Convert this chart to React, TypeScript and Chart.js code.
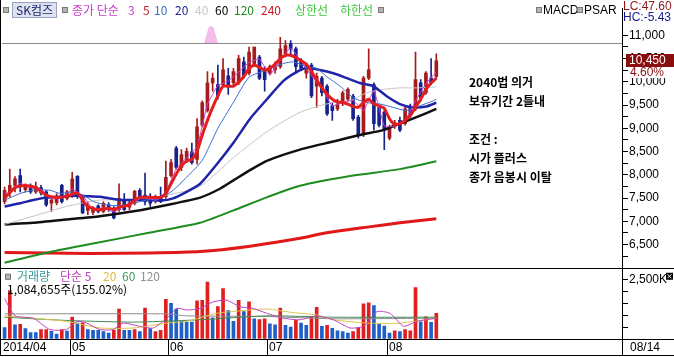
import React, { useEffect, useRef } from 'react';
import { Chart, registerables } from 'chart.js';

Chart.register(...registerables);

// ---------- data ----------
const dates = [
  '04/14','04/15','04/16','04/17','04/18','04/21','04/22','04/23','04/24','04/25','04/28','04/29','04/30',
  '05/02','05/07','05/08','05/09','05/12','05/13','05/14','05/15','05/16','05/19','05/20','05/21','05/22','05/23','05/26','05/27','05/28','05/29','05/30',
  '06/02','06/03','06/05','06/09','06/10','06/11','06/12','06/13','06/16','06/17','06/18','06/19','06/20','06/23','06/24','06/25','06/26','06/27','06/30',
  '07/01','07/02','07/03','07/04','07/07','07/08','07/09','07/10','07/11','07/14','07/15','07/16','07/17','07/18','07/21','07/22','07/23','07/24','07/25','07/28','07/29','07/30','07/31',
  '08/01','08/04','08/05','08/06','08/07','08/08','08/11','08/12','08/13','08/14',
];
const monthTickLabels = ['2014/04', '05', '06', '07', '08'];
const monthStarts = [0, 13, 32, 51, 74];
const lastDateLabel = '08/14';

const opens = [7423,7633,7773,7983,7682,7773,7633,7724,7633,7388,7402,7773,7493,7563,7969,7528,7234,7193,7332,7214,7353,7283,7248,7458,7304,7388,7668,7563,7542,7458,7528,7528,7983,8577,8158,8332,8493,8332,9067,9381,9976,9941,9941,10130,9976,9976,10431,10186,10361,10535,10221,10186,10256,10326,10605,10815,10710,10466,10186,10361,9906,10081,9906,9487,9417,9556,9626,9696,9242,8857,10081,9941,9452,9347,8787,9053,9172,9102,9452,9417,9976,9766,10081,10116];
const highs = [7738,8123,7962,8123,7808,7808,7843,7773,7668,7493,7598,7794,7668,8053,7983,7563,7423,7318,7353,7423,7402,7318,7808,7598,7458,7668,7703,8039,7598,7563,7738,8297,8332,8612,8542,8577,8682,9207,9591,10221,10186,10360,10500,10291,10291,10570,10535,10745,10745,10570,10326,10361,10431,10955,10885,10885,10745,10500,10396,10396,10186,10116,9941,9556,9626,9801,9871,9731,9277,10116,10710,9976,9487,9382,9067,9172,9242,9452,9522,10640,10046,10221,10500,10605];
const lows = [7374,7528,7633,7633,7633,7598,7598,7563,7318,7214,7353,7388,7458,7514,7493,7165,7144,7144,7179,7179,7214,7053,7214,7235,7248,7353,7458,7353,7318,7388,7402,7493,7948,8123,8088,8262,8228,8228,9032,9346,9801,9626,9906,9731,9906,9941,10081,10151,10326,10046,9801,10151,10186,10291,10535,10605,10186,10256,10081,9661,9452,9696,9277,9172,9382,9487,9591,9172,8787,8822,10046,8962,9032,8542,8752,8997,8927,9067,9242,9382,9591,9731,9941,10081];
const closes = [7668,7773,7913,7773,7752,7633,7752,7612,7353,7458,7542,7423,7633,7913,7528,7179,7318,7283,7214,7388,7248,7074,7493,7248,7402,7647,7528,7423,7388,7528,7423,7948,8262,8158,8437,8507,8262,9032,9556,9976,10081,9696,10256,9920,10221,10500,10130,10640,10745,10081,10046,10326,10361,10710,10780,10710,10326,10291,10361,9696,10116,9766,9312,9382,9522,9766,9836,9207,8857,10081,10256,9102,9067,8962,8997,9123,8962,9417,9277,10046,9661,10186,9990,10450];

const volumes = [477000,2041000,601000,620000,436000,272000,272000,395000,400000,325000,206000,395000,329000,918000,671000,683000,395000,370000,370000,313000,247000,370000,1259000,370000,370000,395000,313000,1300000,436000,313000,370000,1671000,1506000,1259000,753000,712000,712000,1605000,1630000,2399000,889000,1370000,2123000,1193000,741000,1630000,1152000,1564000,848000,823000,848000,642000,601000,1300000,576000,506000,782000,671000,576000,946000,1329000,535000,576000,453000,342000,317000,247000,317000,481000,1481000,1523000,1411000,617000,547000,247000,342000,317000,399000,342000,2169000,728000,934000,699700,1084655];
const volumeRising = [0,1,0,1,0,0,0,1,1,0, 0,1,0,1,0,1,0,0,0,0, 0,1,1,0,0,1,0,1,0,1, 1,1,0,0,0,0,0,1,1,1, 0,1,1,0,0,1,0,1,0,1, 1,0,0,1,0,0,1,0,0,1, 1,0,1,0,0,0,0,1,1,1, 1,0,0,0,0,1,0,1,1,1, 0,1,0,1];

// moving averages: [day index, value]
const ma3 = [[0,7600],[1,7620],[3,7820],[5,7720],[7,7690],[9,7480],[11,7500],[13,7690],[15,7550],[17,7260],[19,7290],[21,7200],[23,7330],[25,7430],[27,7530],[29,7450],[31,7630],[33,8130],[35,8370],[37,8600],[39,9520],[41,9920],[43,10020],[45,10210],[47,10420],[49,10490],[51,10150],[53,10470],[55,10730],[57,10440],[59,10130],[61,9860],[63,9480],[65,9560],[67,9600],[69,9380],[71,9810],[73,9050],[75,9040],[77,9170],[79,9590],[81,9960],[83,10210]];
const ma5 = [[0,7493],[2,7724],[4,7772],[6,7724],[8,7562],[10,7514],[12,7541],[14,7612],[15,7457],[16,7319],[18,7247],[20,7283],[21,7247],[22,7304],[24,7352],[25,7457],[26,7514],[28,7514],[30,7514],[31,7598],[32,7808],[33,8017],[34,8192],[35,8296],[36,8332],[37,8506],[38,8857],[39,9171],[40,9450],[41,9696],[42,9906],[44,9906],[46,10115],[47,10290],[48,10361],[49,10311],[50,10256],[51,10290],[52,10382],[53,10499],[54,10571],[55,10571],[56,10520],[57,10451],[58,10382],[59,10220],[60,10046],[61,9870],[62,9731],[63,9627],[64,9570],[65,9555],[66,9522],[67,9471],[68,9450],[69,9555],[70,9627],[71,9522],[72,9486],[73,9429],[74,9207],[75,9081],[76,9102],[77,9171],[78,9276],[79,9450],[80,9627],[81,9836],[82,9975],[83,10080]];
const ma10 = [[0,7457],[3,7598],[5.5,7667],[8.7,7667],[10.7,7598],[13.2,7633],[15.1,7562],[17.1,7424],[19.6,7352],[22.2,7340],[24.8,7388],[27.3,7457],[29.9,7493],[32.4,7667],[35,7948],[38,8311],[41,9000],[44,9560],[47,10100],[50.4,10256],[53.6,10394],[55.5,10430],[58.1,10325],[60,10290],[61.9,10115],[64.5,9906],[67,9660],[69.6,9555],[72.2,9522],[74.7,9450],[77.3,9381],[79.9,9486],[82.4,9591],[83,9627]];
const ma20 = [[0,7319],[3,7388],[5.5,7457],[8,7514],[10.7,7529],[13.2,7550],[15.8,7541],[18.3,7529],[20.3,7493],[22.8,7457],[25,7457],[27.3,7457],[30,7445],[32.4,7493],[35,7633],[37.6,7808],[40.8,8227],[44,8690],[47.2,9207],[50.4,9620],[53.6,10020],[56.1,10210],[58,10300],[60.6,10256],[63.2,10185],[65.8,10080],[68.3,9975],[70.9,9906],[73.4,9696],[76,9522],[78.6,9450],[81.1,9471],[83,9549]];
const ma40 = [[0,6933],[5.5,7109],[11.9,7319],[18.3,7457],[24.8,7457],[31.2,7562],[37.6,7750],[44,8368],[50.4,8926],[56.8,9345],[60.6,9486],[63.2,9555],[66.4,9591],[69.6,9765],[72.8,9836],[76,9870],[79.2,9870],[83,9891]];
const ma60 = [[0,6933],[5.5,6968],[11.9,7038],[18.3,7109],[24.8,7214],[31.2,7352],[37.6,7510],[41.4,7700],[44,7880],[47.2,8100],[50.4,8300],[56.8,8542],[63.2,8716],[68.3,8857],[72.8,8962],[76,9102],[79.2,9241],[83,9417]];
const ma120 = [[0,6108],[8.7,6339],[18.3,6549],[28,6759],[37.6,6968],[43.9,7230],[50.5,7520],[56.8,7766],[66.4,7975],[76,8122],[83,8290]];
const ma240 = [[0,6329],[16.4,6307],[28,6318],[37.6,6349],[47.2,6465],[56.8,6633],[61.2,6738],[69.7,6874],[76,6968],[83,7052]];

const volMa5 = [[0,1699],[2,975],[5.5,876],[8.7,399],[11.9,399],[13.9,741],[15.8,671],[18.3,399],[20.9,399],[22.8,671],[26,535],[28.6,465],[31.2,876],[33.1,1288],[35,1222],[37.6,1288],[40.1,1564],[42.7,1634],[45.3,1358],[47.8,1288],[50.4,1082],[53.6,876],[56.8,811],[60,975],[63.2,811],[66.4,465],[69,535],[71.6,1152],[74.1,1082],[76.7,535],[79.2,741],[83,876]];
const volMa20 = [[0,975],[5.5,876],[11.9,741],[18.3,465],[24.8,465],[31.2,671],[35,741],[40.8,1082],[47.2,1222],[50.4,1263],[55.5,1111],[60,1016],[63.2,811],[69.6,671],[76,671],[83,876]];
const volMa60 = [[0,918],[11.9,782],[24.8,712],[37.6,811],[50.4,975],[63.2,918],[83,918]];
const volMa120 = [[0,1058],[31.2,1058],[35,975],[50.4,946],[63.2,852],[83,876]];

const stockName = 'SK컴즈';
const priceLegend = [
  ['종가 단순', '#c83cc8'], ['3', '#c83cc8'], ['5', '#c0282c'], ['10', '#3b6fc4'], ['20', '#1c2496'],
  ['40', '#c8c8c8'], ['60', '#000000'], ['120', '#1f8a1f'], ['240', '#d2141e'], ['상한선', '#3cc83c'], ['하한선', '#3cc83c'],
];
const volumeLegend = [['거래량', '#3c9a9a'], ['단순 5', '#c040c0'], ['20', '#dcc040'], ['60', '#3c9a5a'], ['120', '#909090']];
const noteLines = ['2040법 의거', '보유기간 2틀내', '', '조건 :', '시가 플러스', '종가 음봉시 이탈'];
const lcText = 'LC:47.60';
const hcText = 'HC:-5.43';
const lastPriceText = '10,450';
const lastPrice = 10450;
const lastChangeText = '4.60%';
const lastVolumeText = '1,084,655주(155.02%)';
const guideLinePrice = 10830;
const markerIndex = 39.7;

const priceTicks: number[] = [];
for (let v = 6250; v <= 11500; v += 250) priceTicks.push(v);
const volumeTicks = [0, 500000, 1000000, 1500000, 2000000, 2500000];

// ---------- styles ----------
const UP = '#a51c1c';
const DOWN = '#18228c';
const VOL_UP = '#e02020';
const VOL_DOWN = '#1e5fc8';
const KFONT = '"Noto Sans CJK KR", "Noto Sans", sans-serif';
const NFONT = '"Liberation Sans", Arial, sans-serif';

const pts = (arr: number[][]) => arr.map(([x, y]) => ({ x, y }));
const fmt = (v: number) => v.toLocaleString('en-US');

function square(ctx: CanvasRenderingContext2D, x: number, y: number) {
  ctx.fillStyle = '#b4b4b4';
  ctx.fillRect(x, y, 6, 6);
  ctx.strokeStyle = '#787878';
  ctx.lineWidth = 1;
  ctx.strokeRect(x + 0.5, y + 0.5, 5, 5);
}

function text(ctx: CanvasRenderingContext2D, s: string, x: number, y: number, color: string, font: string) {
  ctx.fillStyle = color;
  ctx.font = font;
  ctx.textAlign = 'left';
  ctx.textBaseline = 'middle';
  ctx.fillText(s, x, y);
}

const underlay = {
  id: 'underlay',
  beforeDatasetsDraw(chart: any) {
    const ctx = chart.ctx as CanvasRenderingContext2D;
    const xs = chart.scales.x;
    const yP = chart.scales.yP;
    const a = chart.chartArea;
    const gy = Math.round(yP.getPixelForValue(guideLinePrice)) + 0.5;
    ctx.save();
    const mx = xs.getPixelForValue(markerIndex);
    ctx.fillStyle = '#f4bde9';
    ctx.beginPath();
    ctx.moveTo(mx - 7, gy);
    ctx.lineTo(mx - 2.5, gy - 16);
    ctx.quadraticCurveTo(mx, gy - 19, mx + 2.5, gy - 16);
    ctx.lineTo(mx + 7, gy);
    ctx.closePath();
    ctx.fill();
    ctx.strokeStyle = '#8c8c8c';
    ctx.lineWidth = 1;
    ctx.beginPath();
    ctx.moveTo(a.left, gy);
    ctx.lineTo(a.right, gy);
    ctx.stroke();
    ctx.restore();
  },
};

const overlay = {
  id: 'overlay',
  afterDraw(chart: any) {
    const ctx = chart.ctx as CanvasRenderingContext2D;
    const xs = chart.scales.x;
    const yP = chart.scales.yP;
    const a = chart.chartArea;
    const W = chart.width;
    const H = chart.height;
    ctx.save();

    ctx.strokeStyle = '#000';
    ctx.lineWidth = 1;
    const hl = (y: number) => { ctx.beginPath(); ctx.moveTo(0, y); ctx.lineTo(W, y); ctx.stroke(); };
    const vl = (x: number, y0: number, y1: number) => { ctx.beginPath(); ctx.moveTo(x, y0); ctx.lineTo(x, y1); ctx.stroke(); };
    hl(Math.round(yP.bottom) + 0.5);
    hl(Math.round(a.bottom) + 0.5);
    hl(H - 1.5);
    vl(0.5, 0, H - 1);
    vl(Math.round(a.right) + 0.5, a.bottom, H - 1);

    // date row
    const dy = (a.bottom + H - 1) / 2 + 0.5;
    monthStarts.forEach((s, k) => {
      let lx = a.left + 1;
      if (k > 0) {
        const sx = Math.round(xs.getPixelForValue(s - 0.5)) + 0.5;
        vl(sx, a.bottom, H - 1);
        lx = sx + 1.5;
      }
      text(ctx, monthTickLabels[k], lx, dy, '#000', `12px ${NFONT}`);
    });
    text(ctx, lastDateLabel, a.right + 8, dy, '#000', `12px ${NFONT}`);

    // price legend
    square(ctx, 3, 7);
    ctx.fillStyle = '#dfe3ee';
    ctx.fillRect(12, 2, 45, 16);
    ctx.strokeStyle = '#98a2c0';
    ctx.strokeRect(12.5, 2.5, 44, 15);
    text(ctx, stockName, 16, 10.5, '#1c2670', `12px ${KFONT}`);
    square(ctx, 62, 7);
    const lx = [72, 128, 143, 154, 175, 195, 215, 234, 261, 295, 340];
    priceLegend.forEach(([s, c], k) => text(ctx, s, lx[k], 10.5, c, `12px ${KFONT}`));
    square(ctx, 378, 7);
    square(ctx, 536, 7);
    text(ctx, 'MACD', 543, 10.5, '#000', `12px ${NFONT}`);
    square(ctx, 577, 7);
    text(ctx, 'PSAR', 584, 10.5, '#000', `12px ${NFONT}`);

    // LC / HC
    ctx.fillStyle = '#fff';
    ctx.fillRect(a.right + 1, 0, W - a.right - 1, 24);
    text(ctx, lcText, a.right + 1, 7, '#8b1a1a', `12px ${NFONT}`);
    text(ctx, hcText, a.right + 1, 18, '#1a1a8b', `12px ${NFONT}`);

    // last price tag
    const py = Math.round(yP.getPixelForValue(lastPrice));
    ctx.fillStyle = '#8b0e0e';
    ctx.fillRect(a.right + 4, py - 7, W - a.right - 4, 13);
    text(ctx, lastPriceText, a.right + 7, py, '#ffffff', `12px ${NFONT}`);
    ctx.fillStyle = '#fff';
    ctx.fillRect(a.right + 7, py + 6, W - a.right - 7, 11);
    text(ctx, lastChangeText, a.right + 8, py + 11.5, '#8b0e0e', `12px ${NFONT}`);

    // notes
    noteLines.forEach((s, k) => {
      if (s) text(ctx, s, 469, 82 + k * 19, '#000', `bold 12px ${KFONT}`);
    });

    // volume legend
    const vy = yP.bottom + 9;
    square(ctx, 5, vy - 3);
    const vx = [17, 60, 103, 122, 140];
    volumeLegend.forEach(([s, c], k) => text(ctx, s, vx[k], vy, c, `12px ${KFONT}`));
    text(ctx, lastVolumeText, 7, vy + 13, '#000', `12px ${KFONT}`);

    // small icon beside 2,500K
    ctx.fillStyle = '#000';
    ctx.fillRect(W - 8, yP.bottom + 5, 7, 7);
    ctx.strokeStyle = '#fff';
    ctx.beginPath();
    ctx.moveTo(W - 6.5, yP.bottom + 6.5); ctx.lineTo(W - 2.5, yP.bottom + 10.5);
    ctx.moveTo(W - 2.5, yP.bottom + 6.5); ctx.lineTo(W - 6.5, yP.bottom + 10.5);
    ctx.stroke();
    ctx.restore();
  },
};

export default function App() {
  const ref = useRef<HTMLCanvasElement | null>(null);

  useEffect(() => {
    document.body.style.margin = '0';
    const canvas = ref.current;
    if (!canvas) return;
    const idx = dates.map((_, i) => i);
    const up = (i: number) => closes[i] >= opens[i];
    const line = (label: string, data: number[][], color: string, width: number, order: number, axis = 'yP', tension = 0.2) => ({
      type: 'line' as const,
      label,
      data: pts(data),
      xAxisID: 'x',
      yAxisID: axis,
      borderColor: color,
      borderWidth: width,
      pointRadius: 0,
      tension,
      order,
      fill: false,
    });

    const chart = new Chart(canvas, {
      type: 'bar',
      data: {
        datasets: [
          {
            type: 'bar', label: 'wick', data: idx.map((i) => ({ x: i, y: [lows[i], highs[i]] })) as any,
            xAxisID: 'x', yAxisID: 'yP', barThickness: 1, grouped: false, order: 21,
            backgroundColor: (c: any) => (up(c.dataIndex) ? UP : DOWN),
          },
          {
            type: 'bar', label: 'body', data: idx.map((i) => ({ x: i, y: [opens[i], closes[i]] })) as any,
            xAxisID: 'x', yAxisID: 'yP', barThickness: 3, minBarLength: 1, grouped: false, order: 20,
            backgroundColor: (c: any) => (up(c.dataIndex) ? UP : DOWN),
          },
          line('240', ma240, '#e01818', 3, 8),
          line('120', ma120, '#1e8c1e', 2, 7),
          line('60', ma60, '#101010', 2.5, 6),
          line('40', ma40, '#c4c4c4', 1, 5),
          line('20', ma20, '#2024a8', 2.5, 4),
          line('10', ma10, '#3a6ed0', 1, 3),
          line('5', ma5, '#e41e1e', 3, 1),
          line('3', ma3, '#d040d0', 1, 2, 'yP', 0.1),
          {
            type: 'bar', label: 'volume', data: idx.map((i) => ({ x: i, y: volumes[i] })) as any,
            xAxisID: 'x', yAxisID: 'yV', barThickness: 3, grouped: false, order: 22,
            backgroundColor: (c: any) => (volumeRising[c.dataIndex] ? VOL_UP : VOL_DOWN),
          },
          line('v120', volMa120.map(([i, v]) => [i, v * 1000]), '#8c8c8c', 1, 14, 'yV'),
          line('v60', volMa60.map(([i, v]) => [i, v * 1000]), '#3c8c50', 1, 13, 'yV'),
          line('v20', volMa20.map(([i, v]) => [i, v * 1000]), '#e0c44a', 1, 12, 'yV'),
          line('v5', volMa5.map(([i, v]) => [i, v * 1000]), '#c040c0', 1, 11, 'yV'),
        ] as any,
      },
      options: {
        animation: false,
        responsive: false,
        devicePixelRatio: 1,
        events: [],
        layout: { padding: { left: 2, right: 0, top: 0, bottom: 18 }, autoPadding: false },
        plugins: { legend: { display: false }, tooltip: { enabled: false } },
        scales: {
          x: { type: 'linear', min: -0.5, max: 118.7, display: false, offset: false },
          yP: {
            type: 'linear', position: 'right', stack: 'main', stackWeight: 266,
            min: 6000, max: 11584,
            afterFit: (s: any) => { s.width = 52; },
            afterBuildTicks: (s: any) => { s.ticks = priceTicks.map((v) => ({ value: v })); },
            ticks: {
              autoSkip: false, padding: 1, color: '#000', font: { family: NFONT, size: 12 },
              callback: (v: any) => (Number(v) % 500 === 0 ? fmt(Number(v)) : ''),
            },
            grid: { drawOnChartArea: false, drawTicks: true, tickLength: 6, color: '#000' },
            border: { display: true, color: '#000' },
          },
          yV: {
            type: 'linear', position: 'right', stack: 'main', stackWeight: 73,
            min: 0, max: 3000000,
            afterFit: (s: any) => { s.width = 52; },
            afterBuildTicks: (s: any) => { s.ticks = volumeTicks.map((v) => ({ value: v })); },
            ticks: {
              autoSkip: false, padding: 1, color: '#000', font: { family: NFONT, size: 12 },
              callback: (v: any) => (Number(v) === 2500000 ? '2,500K' : ''),
            },
            grid: { drawOnChartArea: false, drawTicks: true, tickLength: 6, color: '#000' },
            border: { display: true, color: '#000' },
          },
        } as any,
      },
      plugins: [underlay, overlay],
    });
    return () => chart.destroy();
  }, []);

  return (
    <div style={{ position: 'absolute', left: 0, top: 0, width: 674, height: 357, background: '#fff' }}>
      <canvas ref={ref} width={674} height={357} style={{ width: 674, height: 357, display: 'block' }} />
    </div>
  );
}
